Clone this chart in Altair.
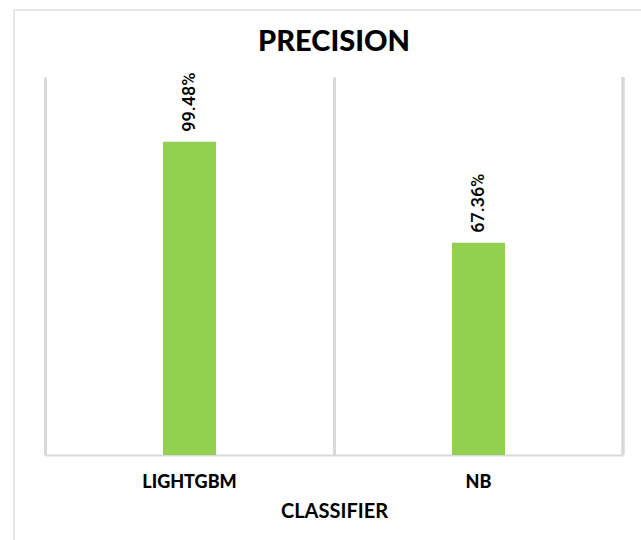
import altair as alt
import pandas as pd

classifiers = ["LIGHTGBM", "NB"]
precision = [99.48, 67.36]

df = pd.DataFrame({"classifier": classifiers, "precision": precision})

W, H = 578, 378
GRID = "#d9d9d9"

base = alt.Chart(df).encode(
    x=alt.X(
        "classifier:N",
        sort=classifiers,
        scale=alt.Scale(paddingInner=0, paddingOuter=0),
        axis=alt.Axis(
            title="CLASSIFIER",
            labelAngle=0,
            labelFont="Lato",
            labelFontWeight=900,
            labelFontSize=18,
            labelColor="#000000",
            labelBaseline="top",
            labelPadding=18,
            ticks=False,
            tickSize=0,
            domainColor=GRID,
            domainWidth=2,
            grid=True,
            gridColor=GRID,
            gridWidth=3,
            bandPosition=0,
            titleFont="Lato",
            titleFontWeight="bold",
            titleFontSize=20,
            titleColor="#000000",
            titlePadding=10,
        ),
    ),
    y=alt.Y(
        "precision:Q",
        scale=alt.Scale(domain=[0, 120], nice=False, zero=True),
        axis=None,
    ),
)

bars = base.mark_bar(color="#92D050", size=53)

labels = base.transform_calculate(
    label="format(datum.precision, '.2f') + '%'"
).mark_text(
    angle=270,
    align="left",
    baseline="middle",
    dx=10,
    font="Roboto",
    fontWeight=500,
    fontSize=18,
    color="#000000",
).encode(text="label:N")

right_edge = alt.Chart(df).mark_rule(color=GRID, strokeWidth=3).encode(
    x=alt.value(W), y=alt.value(0), y2=alt.value(H)
)

frame_top = alt.Chart(df).mark_rule(color="#e6e6e6", strokeWidth=2).encode(
    x=alt.value(-31), x2=alt.value(W + 18), y=alt.value(-67)
)
frame_left = alt.Chart(df).mark_rule(color="#e6e6e6", strokeWidth=2).encode(
    x=alt.value(-31), y=alt.value(-67), y2=alt.value(H + 85)
)

chart = alt.layer(frame_top, frame_left, right_edge, bars, labels).properties(
    width=W,
    height=H,
    autosize=alt.AutoSizeParams(type="none"),
    padding={"left": 45, "top": 77, "right": 18, "bottom": 85},
    title=alt.Title(
        "PRECISION",
        font="Lato",
        fontWeight=900,
        fontSize=29,
        color="#000000",
        anchor="middle",
        baseline="alphabetic",
        offset=-71,
    ),
).configure_view(stroke=None)

chart.save("out.html", embed_options={"renderer": "svg", "actions": False})
